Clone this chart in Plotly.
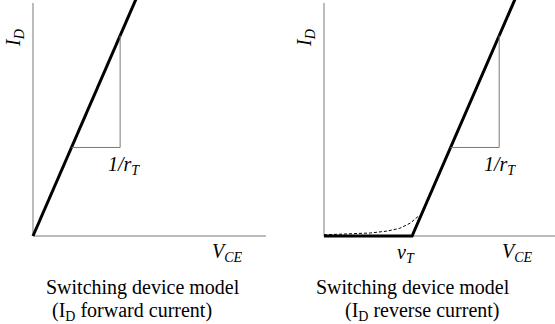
import plotly.graph_objects as go

# --- model parameters (V_CE, I_D in arbitrary units) ---
slope = 2.3                 # 1/r_T, on-state conductance
v_T = 3.78                  # threshold voltage of the reverse-current model
v_max_fwd = 4.45            # end of the drawn forward characteristic
v_max_rev = 8.2             # end of the drawn reverse characteristic
tri_I = [3.8, 8.6]          # current levels of the slope triangle

# real (rounded) diode knee, drawn dashed
knee_V = [0.0, 1.2, 2.0, 2.7, 3.25, 3.7, 4.05]
knee_I = [0.05, 0.08, 0.13, 0.21, 0.33, 0.55, 0.85]

axis_len_x = 10.0
axis_len_y = 10.0

W, H = 555, 324
px = 23.3   # pixels per unit, same on both axes
pad = 0.15

FONT = "Liberation Serif"
GREY = "#7a7a7a"

fig = go.Figure()

# forward model: straight line through origin
fwd_V = [0.0, v_max_fwd]
fwd_I = [slope * v for v in fwd_V]
fig.add_trace(go.Scatter(x=fwd_V, y=fwd_I, mode="lines",
                         line=dict(color="black", width=3), xaxis="x", yaxis="y"))

# slope triangle
def triangle(v0):
    i_lo, i_hi = tri_I
    v_lo = v0 + i_lo / slope
    v_hi = v0 + i_hi / slope
    return [v_lo, v_hi, v_hi], [i_lo, i_lo, i_hi]

tx, ty = triangle(0.0)
fig.add_trace(go.Scatter(x=tx, y=ty, mode="lines",
                         line=dict(color=GREY, width=1), xaxis="x", yaxis="y"))

# reverse model: zero until v_T, then slope
rev_V = [0.0, v_T, v_max_rev]
rev_I = [0.0, 0.0, slope * (v_max_rev - v_T)]
fig.add_trace(go.Scatter(x=knee_V, y=knee_I, mode="lines",
                         line=dict(color="black", width=1, dash="3px,2px"),
                         xaxis="x2", yaxis="y2"))
fig.add_trace(go.Scatter(x=rev_V, y=rev_I, mode="lines",
                         line=dict(color="black", width=3), xaxis="x2", yaxis="y2"))
tx2, ty2 = triangle(v_T)
fig.add_trace(go.Scatter(x=tx2, y=ty2, mode="lines",
                         line=dict(color=GREY, width=1), xaxis="x2", yaxis="y2"))

# axis lines
shapes = []
for xr, yr in (("x", "y"), ("x2", "y2")):
    shapes.append(dict(type="line", xref=xr, yref=yr, x0=0, y0=0, x1=0, y1=axis_len_y,
                       line=dict(color=GREY, width=1), layer="below"))
    shapes.append(dict(type="line", xref=xr, yref=yr, x0=0, y0=0, x1=axis_len_x, y1=0,
                       line=dict(color=GREY, width=1), layer="below"))

# subplot placement
x0_left, x0_right, y0_px = 33, 324, 236
y_top = y0_px / px
def xdom(x0):
    left = x0 - pad * px
    return [left / W, min(1.0, (left + (axis_len_x + pad) * px) / W)]

xd1 = xdom(x0_left)
xd2 = xdom(x0_right)
xr2_hi = (xd2[1] * W - x0_right) / px
ydom = [(H - y0_px - pad * px) / H, 1.0]

ax_common = dict(visible=False, showgrid=False, zeroline=False, fixedrange=True)

fig.update_layout(
    width=W, height=H,
    margin=dict(l=0, r=0, t=0, b=0),
    paper_bgcolor="white", plot_bgcolor="rgba(0,0,0,0)",
    showlegend=False,
    shapes=shapes,
    xaxis=dict(domain=xd1, range=[-pad, axis_len_x], **ax_common),
    yaxis=dict(domain=ydom, range=[-pad, y_top], **ax_common),
    xaxis2=dict(domain=xd2, range=[-pad, xr2_hi], anchor="y2", **ax_common),
    yaxis2=dict(domain=ydom, range=[-pad, y_top], anchor="x2", **ax_common),
    font=dict(family=FONT, color="black", size=20),
)

def ann(text, x, y, xref="paper", yref="paper", size=20, angle=0, **kw):
    if xref == "paper":
        x = x / W
    if yref == "paper":
        y = 1 - y / H
    fig.add_annotation(text=text, x=x, y=y, xref=xref, yref=yref, showarrow=False,
                       textangle=angle, font=dict(family=FONT, size=size, color="black"),
                       xanchor="center", yanchor="middle", **kw)

IDlab = "<i>I<sub>D</sub></i>"
VCE = "<i>V<sub>CE</sub></i>"
rT = "<i>1/r<sub>T</sub></i>"

# left panel labels
ann(IDlab, 15, 38, angle=-90)
ann(VCE, 227, 252)
ann(rT, tx[1], tri_I[0], xref="x", yref="y", xshift=4, yshift=-18)
ann("Switching device model", 143, 287)
ann("(I<sub>D</sub> forward current)", 132, 311)

# right panel labels
ann(IDlab, 306, 38, angle=-90)
ann(VCE, 517, 252)
ann("<i>v<sub>T</sub></i>", v_T, 0, xref="x2", yref="y2", xshift=-6, yshift=-17)
ann(rT, tx2[1], tri_I[0], xref="x2", yref="y2", xshift=1, yshift=-18)
ann("Switching device model", 413, 287)
ann("(I<sub>D</sub> reverse current)", 422, 311)

fig.write_html("out.html")
